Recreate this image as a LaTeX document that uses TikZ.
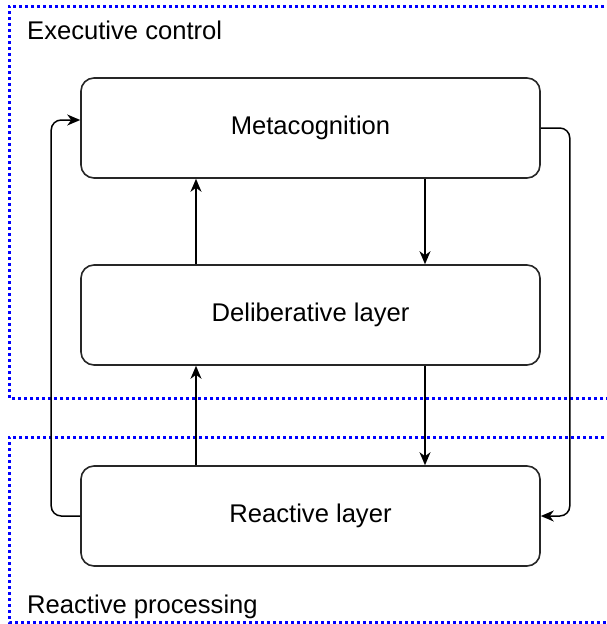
\documentclass[tikz,border=0pt]{standalone}
\usepackage{fontspec}
\setmainfont{Liberation Sans}
\usetikzlibrary{arrows.meta}
\begin{document}
\begin{tikzpicture}[x=1pt,y=-1pt,
  layer/.style={draw=black!85, line width=1.6pt, rounded corners=13pt, minimum width=459pt, minimum height=100pt, inner sep=0pt, font=\fontsize{25.6}{30}\selectfont},
  group/.style={draw={rgb,255:red,0;green,0;blue,255}, line width=3pt, dash pattern=on 3pt off 3pt},
  lbl/.style={anchor=base west, inner sep=0pt, font=\fontsize{25.6}{30}\selectfont},
  arr/.style={draw=black, line width=1.5pt, -{Stealth[length=13pt,width=11pt,inset=4pt]}, rounded corners=10pt}]
\useasboundingbox (0,0) rectangle (607,624);
\clip (0,0) rectangle (607,624);
\draw[group] (640,6) -- (9,6) -- (9,398) -- (640,398);
\draw[group] (640,437) -- (9,437) -- (9,622) -- (640,622);
\node[lbl] (exec) at (27,39) {Executive control};
\node[lbl] (reproc) at (27,613) {Reactive processing};
\node[layer] (meta) at (310.5,128) {Metacognition};
\node[layer] (delib) at (310.5,315) {Deliberative layer};
\node[layer] (react) at (310.5,516) {Reactive layer};
\draw[arr] ([xshift=-114.5pt]delib.north) -- ([xshift=-114.5pt]meta.south);
\draw[arr] ([xshift=114.5pt]meta.south) -- ([xshift=114.5pt]delib.north);
\draw[arr] ([xshift=-114.5pt]react.north) -- ([xshift=-114.5pt]delib.south);
\draw[arr] ([xshift=114.5pt]delib.south) -- ([xshift=114.5pt]react.north);
\draw[arr] (react.west) -- ++(-29,0) |- ([yshift=8pt]meta.west);
\draw[arr] (meta.east) -- ++(29,0) |- (react.east);
\end{tikzpicture}
\end{document}
